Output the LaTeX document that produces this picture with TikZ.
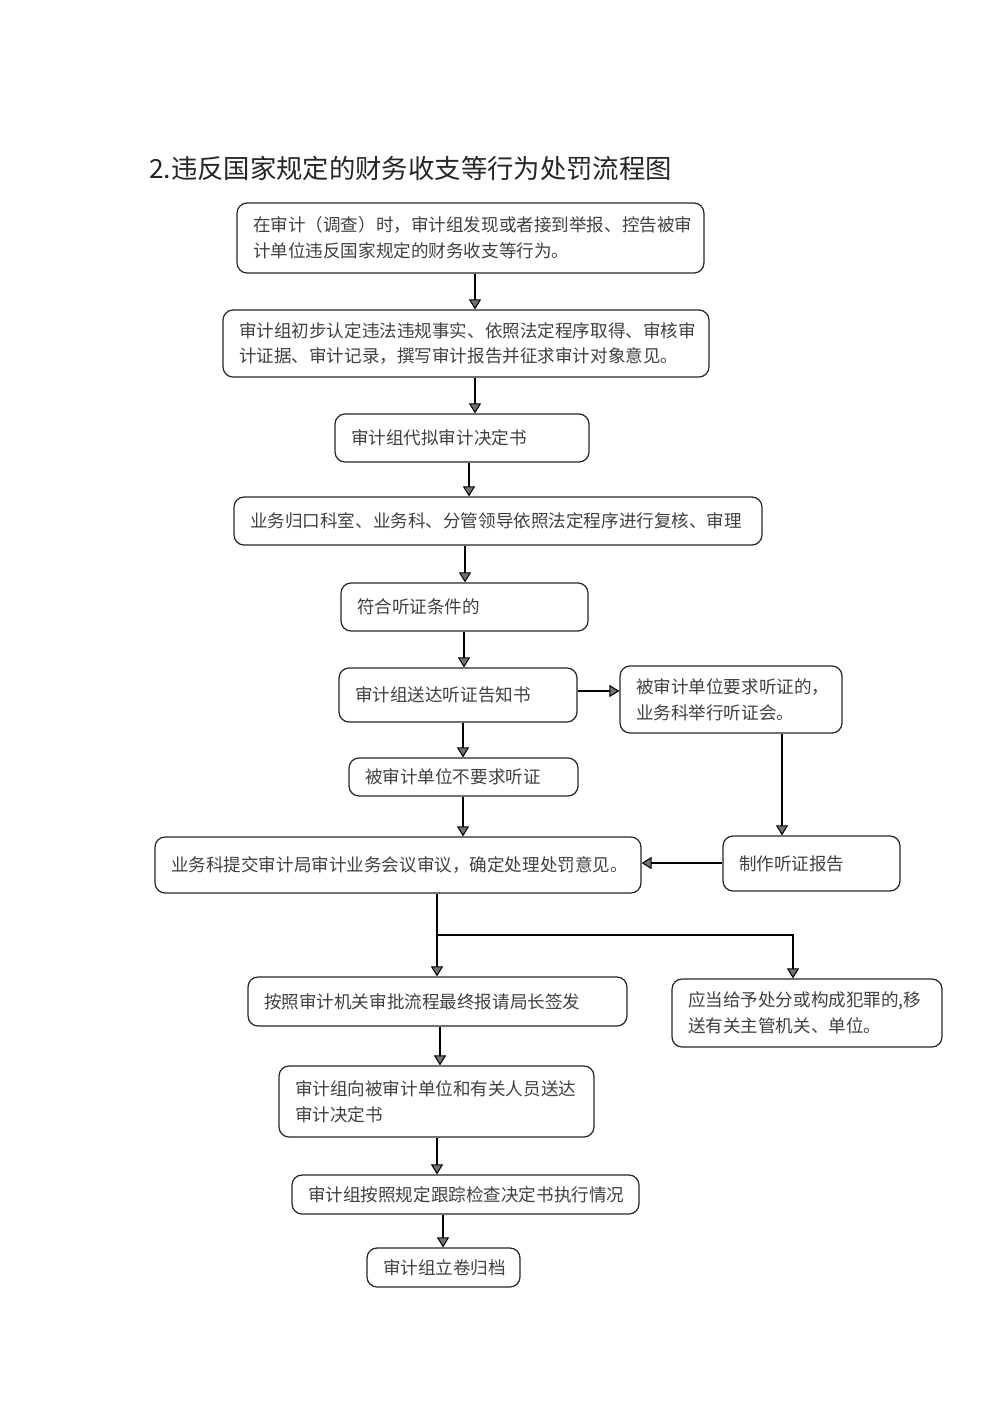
\documentclass[tikz,border=0pt]{standalone}
\usepackage{fontspec}
\setmainfont{Noto Sans CJK SC}
\usetikzlibrary{arrows.meta}
\begin{document}
\begin{tikzpicture}[x=0.02cm,y=-0.02cm,
  box/.style={draw=black!85,line width=0.7pt,rounded corners=0.2cm,align=left,
    inner xsep=0.32cm,inner ysep=0pt,text=black!75,
    font=\fontsize{10pt}{14.7pt}\selectfont},
  conn/.style={draw=black,line width=0.6pt,
    -{Triangle[width=0.24cm,length=0.2cm,fill=black!55]}},
  plain/.style={draw=black,line width=0.6pt}]
\useasboundingbox (0,0) rectangle (1000,1414);
\node[anchor=west,font=\fontsize{15pt}{18pt}\selectfont,text=black!85] (title) at (143,168) {2.违反国家规定的财务收支等行为处罚流程图};
\node[box,text width=8.70cm,minimum height=1.40cm] (n1) at (470.5,238) {在审计（调查）时，审计组发现或者接到举报、控告被审\\计单位违反国家规定的财务收支等行为。};
\node[box,text width=9.08cm,minimum height=1.34cm] (n2) at (466,343.5) {审计组初步认定违法违规事实、依照法定程序取得、审核审\\计证据、审计记录，撰写审计报告并征求审计对象意见。};
\node[box,text width=4.44cm,minimum height=0.96cm] (n3) at (462,438) {审计组代拟审计决定书};
\node[box,text width=9.92cm,minimum height=0.96cm] (n4) at (498,521) {业务归口科室、业务科、分管领导依照法定程序进行复核、审理};
\node[box,text width=4.30cm,minimum height=0.96cm] (n5) at (464.5,607) {符合听证条件的};
\node[box,text width=4.12cm,minimum height=1.08cm] (n6) at (458,695) {审计组送达听证告知书};
\node[box,text width=3.80cm,minimum height=1.34cm] (n7) at (731,699.5) {被审计单位要求听证的，\\业务科举行听证会。};
\node[box,text width=3.94cm,minimum height=0.76cm] (n8) at (463.5,777) {被审计单位不要求听证};
\node[box,text width=9.08cm,minimum height=1.12cm] (n9) at (398,865) {业务科提交审计局审计业务会议审议，确定处理处罚意见。};
\node[box,text width=2.90cm,minimum height=1.10cm] (n10) at (811.5,863.5) {制作听证报告};
\node[box,text width=6.94cm,minimum height=0.98cm] (n11) at (437.5,1001.5) {按照审计机关审批流程最终报请局长签发};
\node[box,text width=4.76cm,minimum height=1.36cm] (n12) at (807,1013) {应当给予处分或构成犯罪的,移\\送有关主管机关、单位。};
\node[box,text width=5.66cm,minimum height=1.42cm] (n13) at (436.5,1101.5) {审计组向被审计单位和有关人员送达\\审计决定书};
\node[box,text width=6.30cm,minimum height=0.78cm] (n14) at (465.5,1194.5) {审计组按照规定跟踪检查决定书执行情况};
\node[box,text width=2.42cm,minimum height=0.78cm] (n15) at (443.5,1267.5) {审计组立卷归档};
% connectors
\draw[conn] (n1.south -| 475,0) -- (n2.north -| 475,0);
\draw[conn] (n2.south -| 475,0) -- (n3.north -| 475,0);
\draw[conn] (n3.south -| 469,0) -- (n4.north -| 469,0);
\draw[conn] (n4.south -| 465,0) -- (n5.north -| 465,0);
\draw[conn] (n5.south -| 464,0) -- (n6.north -| 464,0);
\draw[conn] (n6.east |- 0,691) -- (n7.west |- 0,691);
\draw[conn] (n6.south -| 463,0) -- (n8.north -| 463,0);
\draw[conn] (n8.south -| 463,0) -- (n9.north -| 463,0);
\draw[conn] (n7.south -| 782,0) -- (n10.north -| 782,0);
\draw[conn] (n10.west |- 0,863) -- (n9.east |- 0,863);
\coordinate (split) at (437,935);
\draw[plain] (n9.south -| 437,0) -- (split);
\draw[conn] (split) -- (n11.north -| 437,0);
\draw[conn] (split) -| (n12.north -| 793,0);
\draw[conn] (n11.south -| 440,0) -- (n13.north -| 440,0);
\draw[conn] (n13.south -| 437,0) -- (n14.north -| 437,0);
\draw[conn] (n14.south -| 443,0) -- (n15.north -| 443,0);
\end{tikzpicture}
\end{document}
